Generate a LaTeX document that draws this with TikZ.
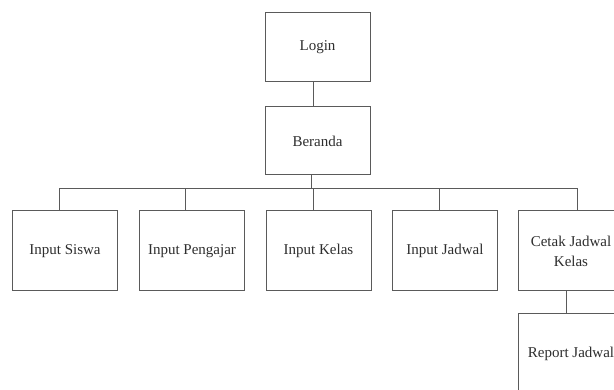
\documentclass[tikz,border=0pt]{standalone}
\usepackage{fontspec}
\setmainfont{Liberation Serif}
\usetikzlibrary{calc}
\definecolor{edge}{HTML}{5A5A5A}
\definecolor{ink}{HTML}{2E2E2E}
\begin{document}
\begin{tikzpicture}[x=1pt,y=-1pt,
  menubox/.style={draw=edge,line width=1pt,fill=white,minimum width=105pt,
    minimum height=80pt,inner sep=0pt,align=center,text=ink,
    font=\fontsize{15}{20}\selectfont},
  link/.style={draw=edge,line width=1pt}]
\useasboundingbox (0,0) rectangle (614,390);
\clip (0,0) rectangle (614,390);
\fill[white] (0,0) rectangle (614,390);

% top of the menu tree
\node[menubox,minimum height=69pt] (login) at (317.5,47.5) {Login};
\node[menubox,minimum height=68pt] (beranda) at (317.5,141) {Beranda};

% menu items
\node[menubox] (siswa) at (65,251) {Input Siswa};
\node[menubox] (pengajar) at (192,251) {Input Pengajar};
\node[menubox] (kelas) at (318.5,251) {Input Kelas};
\node[menubox] (jadwal) at (445,251) {Input Jadwal};
\node[menubox] (cetak) at (571,251) {Cetak Jadwal\\Kelas};
\node[menubox] (report) at (571,354) {Report Jadwal};

% connectors
\draw[link] ($(login.south)+(-4.5,0)$) -- ($(beranda.north)+(-4.5,0)$);
\coordinate (bus) at ($(beranda.south)+(-6.5,14)$);
\draw[link] ($(beranda.south)+(-6.5,0)$) -- (bus);
\draw[link] ($(siswa.north)+(-6,-22)$) -- ($(cetak.north)+(6,-22)$);
\foreach \n/\dx in {siswa/-6,pengajar/-7,kelas/-5.5,jadwal/-6,cetak/6}
  \draw[link] ($(\n.north)+(\dx,-22)$) -- ($(\n.north)+(\dx,0)$);
\draw[link] ($(cetak.south)+(-5,0)$) -- ($(report.north)+(-5,0)$);
\end{tikzpicture}
\end{document}
